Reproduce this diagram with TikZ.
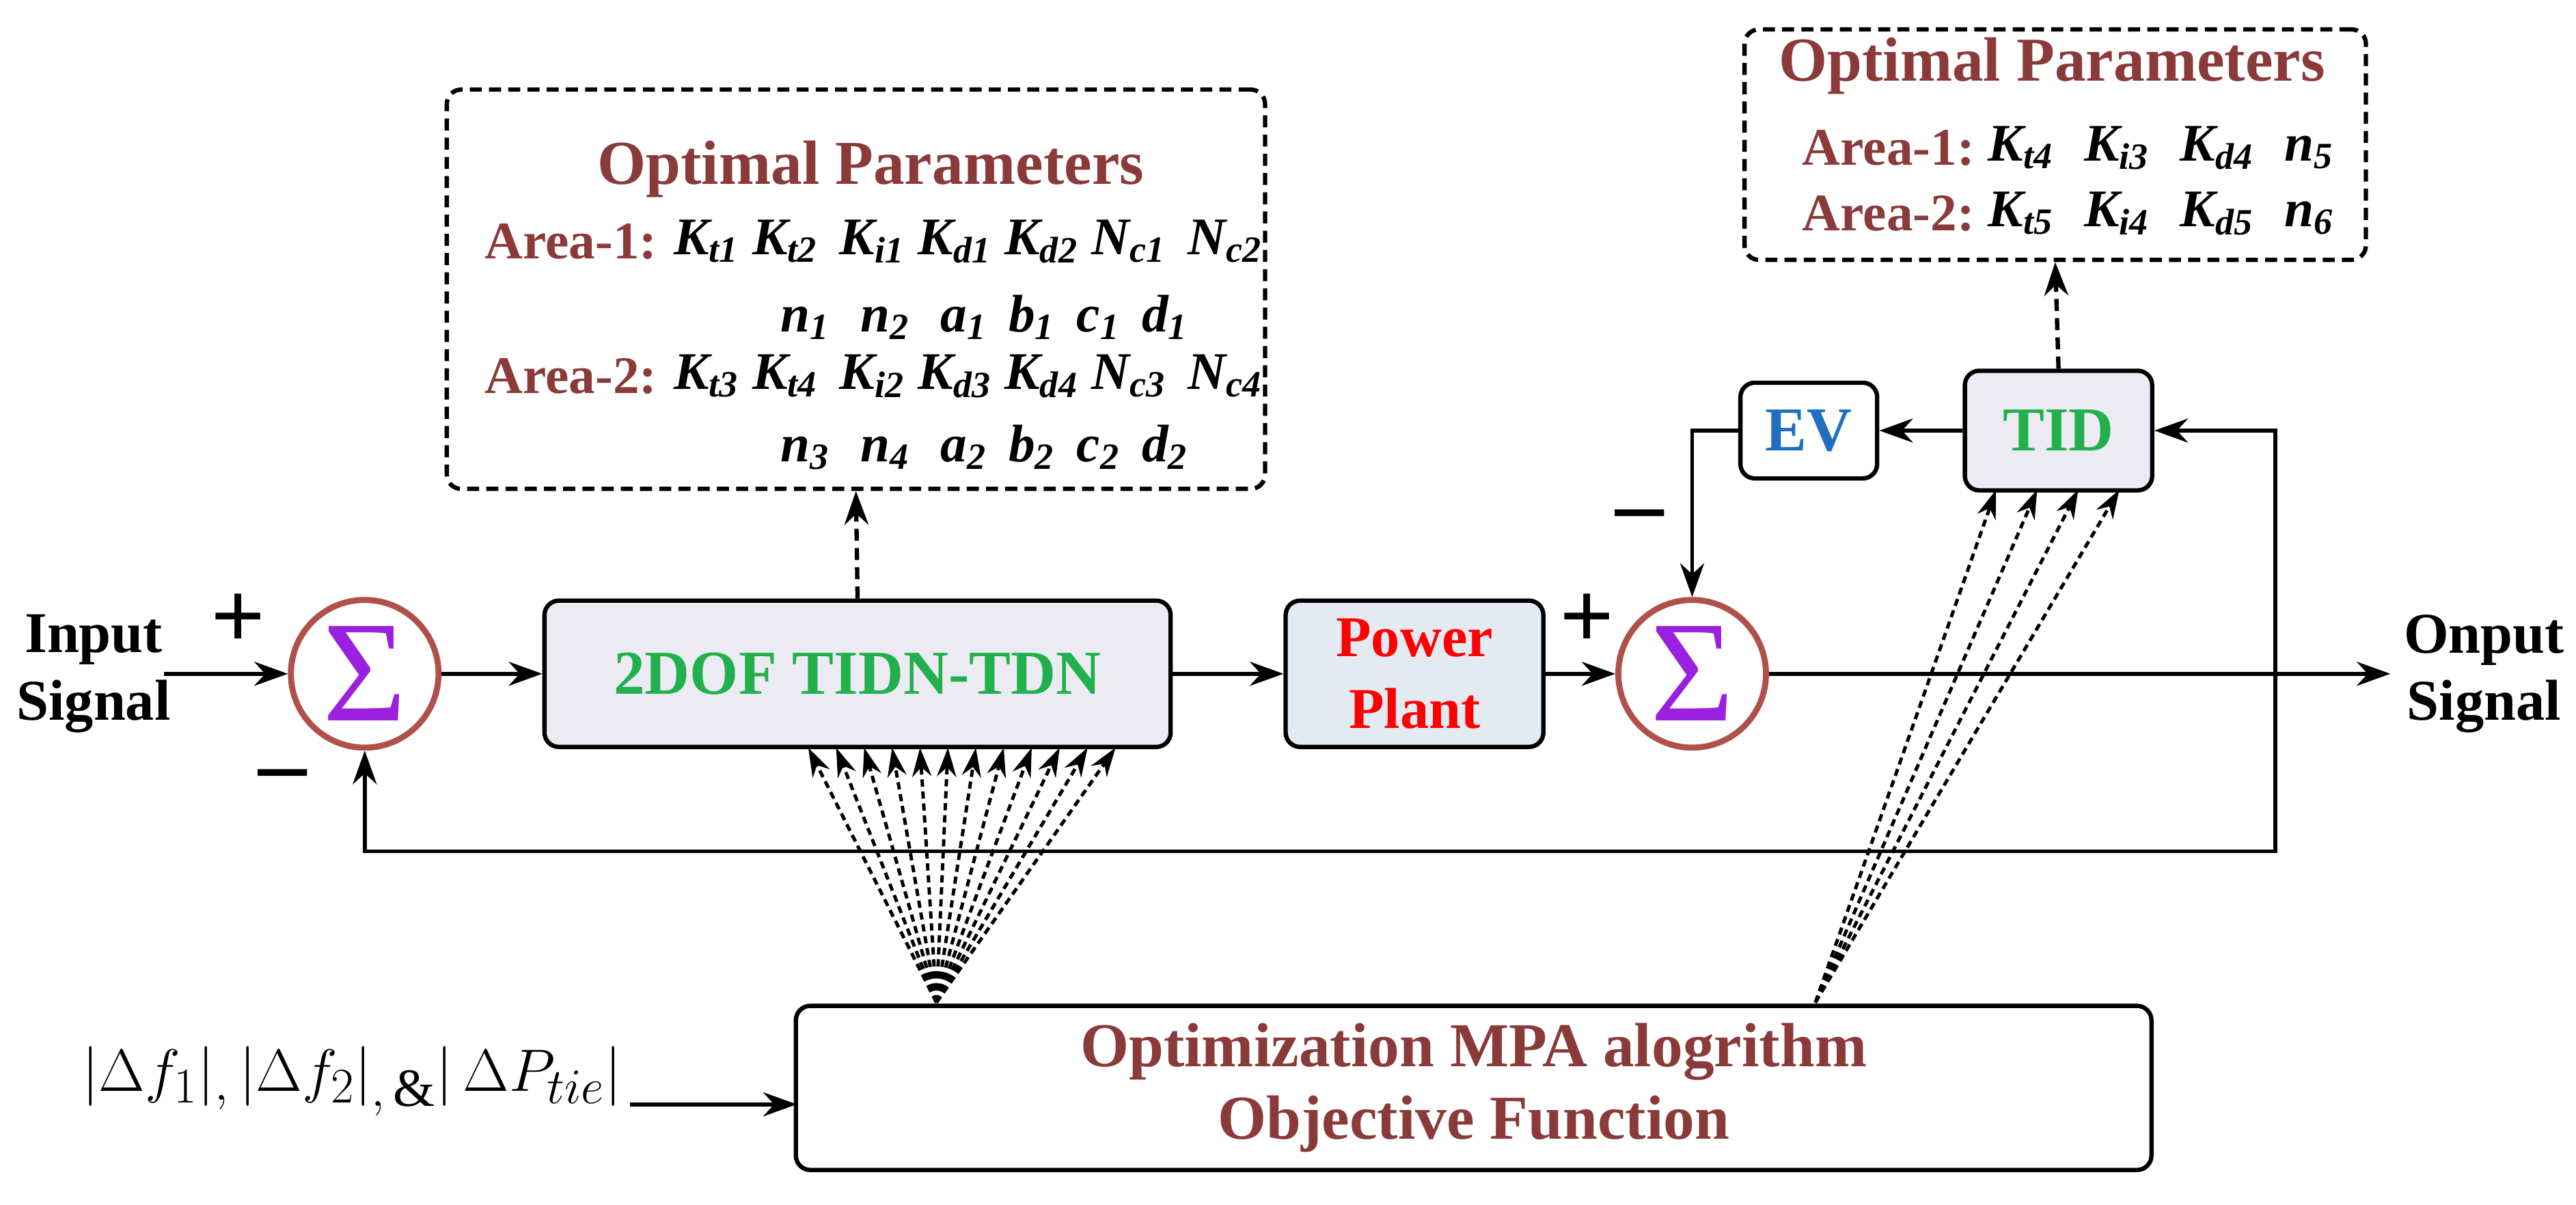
\documentclass[tikz,border=0pt]{standalone}
\usepackage{fontspec}
\setmainfont{Liberation Serif}
\newfontfamily\tnr{Liberation Serif}
\usetikzlibrary{arrows.meta}
\definecolor{dred}{HTML}{8B3A3A}
\definecolor{sgreen}{HTML}{22B04C}
\definecolor{evblue}{HTML}{1F6FC0}
\definecolor{boxfill}{HTML}{ECEBF3}
\definecolor{ppfill}{HTML}{E4EAF2}
\definecolor{circ}{HTML}{B0504A}
\definecolor{sig}{HTML}{9B20E0}
\newcommand{\sbs}[1]{\textsubscript{#1}}
\begin{document}
\begin{tikzpicture}[x=0.02404cm,y=-0.02404cm,
  arr/.style={-{Stealth[length=14pt,width=10pt]},line width=1.6pt},
  dar/.style={-{Stealth[length=14pt,width=10pt]},line width=1.8pt,dash pattern=on 5pt off 3pt},
  dot/.style={-{Stealth[length=12pt,width=8pt]},line width=1.4pt,dash pattern=on 3pt off 2pt},
  blk/.style={draw,line width=1.8pt,rounded corners=6pt,inner sep=0pt},
  sum/.style={circle,draw=circ,line width=2.5pt,inner sep=0pt,minimum size=2.16cm,font=\tnr\fontsize{60}{60}\selectfont\color{sig}},
  pb/.style={draw,line width=1.8pt,dash pattern=on 5pt off 3pt,rounded corners=6pt},
  bt/.style={font=\tnr\fontsize{26}{30}\selectfont\bfseries}]
\useasboundingbox (0,0) rectangle (1568,733);
% nodes
\node[sum] (s1) at (222,410) {Σ};
\node[sum] (s2) at (1030,410) {Σ};
\node[blk,fill=boxfill,minimum width=9.16cm,minimum height=2.14cm,text=sgreen,bt] (c) at (522,410) {2DOF TIDN-TDN};
\node[blk,fill=ppfill,minimum width=3.77cm,minimum height=2.14cm,text=red,align=center,font=\tnr\fontsize{24}{30}\selectfont\bfseries] (pp) at (861,410) {Power\\Plant};
\node[blk,fill=boxfill,minimum width=2.74cm,minimum height=1.75cm,text=sgreen,bt] (tid) at (1253,262) {TID};
\node[blk,minimum width=2.0cm,minimum height=1.4cm,text=evblue,bt] (ev) at (1101,262) {EV};
\node[blk,minimum width=19.83cm,minimum height=2.4cm,text=dred,align=center,bt] (opt) at (897,662) {Optimization MPA alogrithm\\Objective Function};
\node[align=center,font=\tnr\fontsize{24}{28}\selectfont\bfseries] (in) at (57,410) {Input\\Signal};
\node[align=center,font=\tnr\fontsize{24}{28}\selectfont\bfseries] (out) at (1512,410) {Onput\\Signal};
\node[font=\tnr\fontsize{40}{40}\selectfont\bfseries] at (145,378) {+};
\node[font=\tnr\fontsize{40}{40}\selectfont\bfseries] at (172,476) {–};
\node[font=\tnr\fontsize{40}{40}\selectfont\bfseries] at (966,378) {+};
\node[font=\tnr\fontsize{40}{40}\selectfont\bfseries] at (998,318) {–};
\node[font=\tnr\fontsize{32}{34}\selectfont,anchor=west] (df) at (45,658) {$|\Delta f_1|_{,}\,|\Delta f_2|_{,\,\&}|\,\Delta P_{tie}|$};
\coordinate (dfe) at (485,672);
% param boxes
\node[pb,minimum width=11.97cm,minimum height=5.84cm] (p1) at (521,176) {};
\node[pb,minimum width=9.09cm,minimum height=3.37cm] (p2) at (1251,88) {};
\node[bt,text=dred] at (530,103) {Optimal Parameters};
\node[bt,text=dred] at (1249,40) {Optimal Parameters};
\begin{scope}[font=\tnr\fontsize{22}{26}\selectfont\bfseries]
\node[text=dred,anchor=west] at (290,147) {Area-1:};
\node[anchor=west] at (405,147) {\itshape K\sbs{t1} K\sbs{t2}\, K\sbs{i1} K\sbs{d1} K\sbs{d2} N\sbs{c1}\, N\sbs{c2}};
\node[anchor=west] at (470,193) {\itshape n\sbs{1}\,\, n\sbs{2}\,\, a\sbs{1}\, b\sbs{1}\, c\sbs{1}\, d\sbs{1}};
\node[text=dred,anchor=west] at (290,229) {Area-2:};
\node[anchor=west] at (405,229) {\itshape K\sbs{t3} K\sbs{t4}\, K\sbs{i2} K\sbs{d3} K\sbs{d4} N\sbs{c3}\, N\sbs{c4}};
\node[anchor=west] at (470,272) {\itshape n\sbs{3}\,\, n\sbs{4}\,\, a\sbs{2}\, b\sbs{2}\, c\sbs{2}\, d\sbs{2}};
\node[text=dred,anchor=west] at (1092,90) {Area-1:};
\node[anchor=west] at (1205,90) {\itshape K\sbs{t4}\,\, K\sbs{i3}\,\, K\sbs{d4}\,\, n\sbs{5}};
\node[text=dred,anchor=west] at (1092,130) {Area-2:};
\node[anchor=west] at (1205,130) {\itshape K\sbs{t5}\,\, K\sbs{i4}\,\, K\sbs{d5}\,\, n\sbs{6}};
\end{scope}
% connectors
\coordinate (inE) at (100,410);
\draw[arr] (inE) -- (s1);
\draw[arr] (s1) -- (c);
\draw[arr] (c) -- (pp);
\draw[arr] (pp) -- (s2);
\coordinate (oe) at (1455,410);
\draw[arr] (s2) -- (oe);
\coordinate (fb) at (1385,410);
\draw[arr] (fb) -- (1385,518) -- (222,518) -- (s1.south);
\draw[arr] (fb) -- (1385,262) -- (tid.east);
\draw[arr] (tid) -- (ev);
\draw[arr] (ev.west) -- (1030,262) -- (s2.north);
\draw[dar] (c.north) -- (p1.south);
\draw[dar] (tid.north) -- (p2.south);
\draw[arr] (df.east|-dfe) -- (dfe);
\coordinate (f1) at (570,610);
\coordinate (f2) at (1105,610);
\foreach \x in {492,509,526,543,560,577,594,611,628,645,662,679}
  \draw[dot] (f1) -- (\x,455);
\foreach \x in {1215,1240,1265,1290}
  \draw[dot] (f2) -- (\x,298);
\end{tikzpicture}
\end{document}
